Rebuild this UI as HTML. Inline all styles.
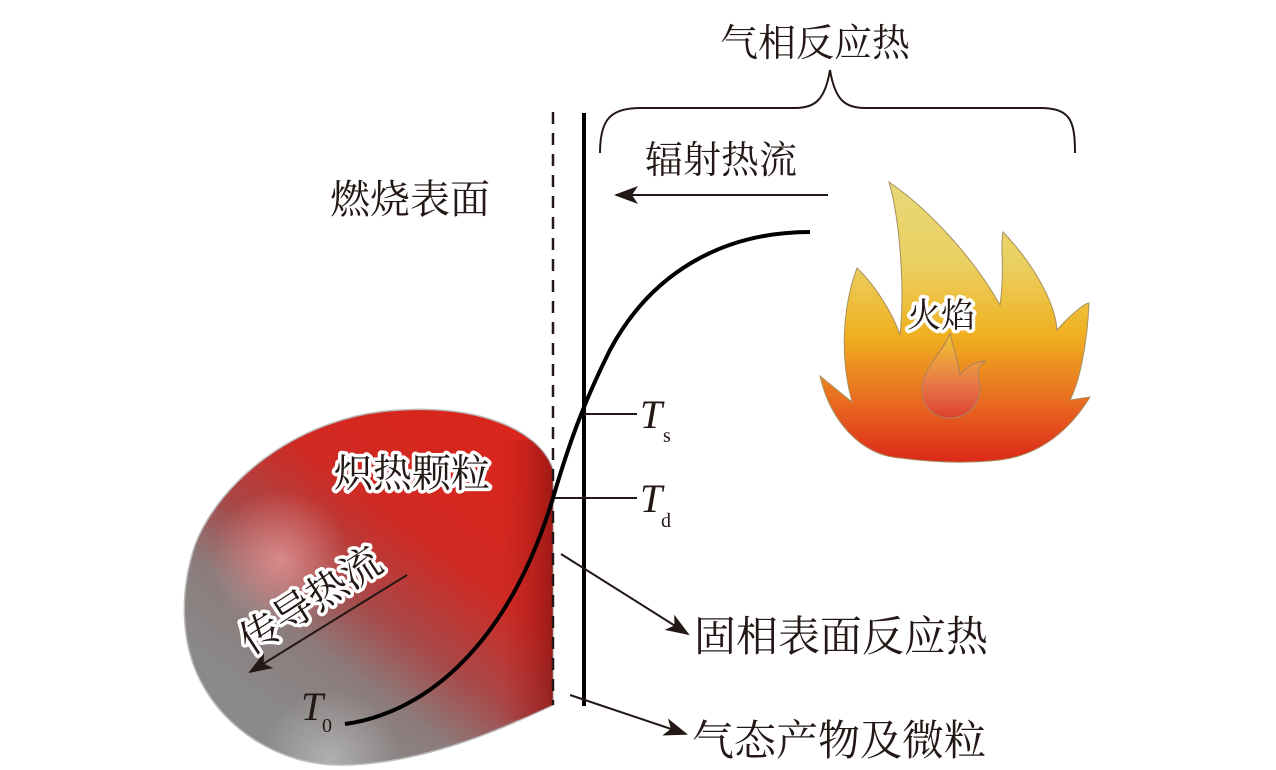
<!DOCTYPE html>
<html><head><meta charset="utf-8"><style>
html,body{margin:0;padding:0;background:#fff;}
svg{display:block;}
.t{font-family:"Liberation Serif","Noto Serif CJK SC",serif;fill:#231815;}
.w{paint-order:stroke;stroke:#fff;stroke-width:7px;stroke-linejoin:round;}
</style></head><body>
<svg width="1276" height="770" viewBox="0 0 1276 770" xmlns="http://www.w3.org/2000/svg">
<defs>
<clipPath id="pc"><path d="M553 470 C540 430 480 405 400 410 C300 415 220 480 195 545 C180 590 180 640 200 680 C225 730 280 765 340 765 C430 765 520 720 553 705 Z"/></clipPath>
<linearGradient id="pg" x1="470" y1="450" x2="270" y2="720" gradientUnits="userSpaceOnUse">
<stop offset="0" stop-color="#d8261c"/>
<stop offset="0.3" stop-color="#cf2a24"/>
<stop offset="0.55" stop-color="#a84848"/>
<stop offset="0.75" stop-color="#8c7c7c"/>
<stop offset="1" stop-color="#8a8a8a"/>
</linearGradient>
<radialGradient id="hl" cx="280" cy="560" r="70" gradientUnits="userSpaceOnUse">
<stop offset="0" stop-color="#f0a0a0" stop-opacity="0.7"/>
<stop offset="1" stop-color="#f0a0a0" stop-opacity="0"/>
</radialGradient>
<radialGradient id="bh" cx="330" cy="760" r="70" gradientUnits="userSpaceOnUse">
<stop offset="0" stop-color="#c8c8c8" stop-opacity="0.6"/>
<stop offset="1" stop-color="#c8c8c8" stop-opacity="0"/>
</radialGradient>
<linearGradient id="rg" x1="0" y1="0" x2="1" y2="0">
<stop offset="0" stop-color="#b01c1c" stop-opacity="0"/>
<stop offset="1" stop-color="#7a1010" stop-opacity="0.6"/>
</linearGradient>
<linearGradient id="fg" x1="0" y1="182" x2="0" y2="460" gradientUnits="userSpaceOnUse">
<stop offset="0" stop-color="#e8d878"/>
<stop offset="0.3" stop-color="#ead060"/>
<stop offset="0.55" stop-color="#f0b020"/>
<stop offset="0.8" stop-color="#e86820"/>
<stop offset="1" stop-color="#dc2a1a"/>
</linearGradient>
<linearGradient id="ig" x1="0" y1="333" x2="0" y2="418" gradientUnits="userSpaceOnUse">
<stop offset="0" stop-color="#f0c830"/>
<stop offset="0.6" stop-color="#e87848"/>
<stop offset="1" stop-color="#dc4030"/>
</linearGradient>
<marker id="ah2" markerWidth="24" markerHeight="18" refX="22" refY="9" orient="auto" markerUnits="userSpaceOnUse" viewBox="0 0 24 18">
<path d="M0,0 L24,9 L0,18 L6,9 Z" fill="#231815"/>
</marker>
</defs>

<!-- particle -->
<path d="M553 470 C540 430 480 405 400 410 C300 415 220 480 195 545 C180 590 180 640 200 680 C225 730 280 765 340 765 C430 765 520 720 553 705 Z" fill="url(#pg)" stroke="#bbb" stroke-width="1.5"/>
<g clip-path="url(#pc)">
<rect x="180" y="400" width="380" height="370" fill="url(#hl)"/>
<rect x="180" y="400" width="380" height="370" fill="url(#bh)"/>
<rect x="500" y="440" width="53" height="280" fill="url(#rg)"/>
</g>

<!-- flame -->
<path d="M900 458 C860 455 830 420 820 376 L852 402 C838 350 845 300 857 268 C880 290 895 320 900 335 C905 290 900 220 889 182 C930 210 975 260 1000 305 C1005 270 1000 245 1003 232 C1030 260 1055 300 1057 330 C1070 315 1085 303 1089 303 C1087 350 1078 385 1070 400 L1090 397 C1070 430 1040 455 1000 460 C965 464 930 462 900 458 Z" fill="url(#fg)" stroke="#a89060" stroke-width="1"/>
<path d="M950 333 C945 350 920 370 922 392 C924 410 935 418 950 418 C970 418 982 400 980 385 C978 375 975 370 985 361 C970 362 962 372 960 375 C958 358 952 345 950 333 Z" fill="url(#ig)" stroke="#b08060" stroke-width="1"/>

<!-- lines -->
<line x1="553" y1="112" x2="553" y2="705" stroke="#231815" stroke-width="2.5" stroke-dasharray="12,9"/>
<line x1="584" y1="113" x2="584" y2="706" stroke="#000" stroke-width="4"/>
<line x1="584" y1="414" x2="637" y2="414" stroke="#231815" stroke-width="2"/>
<line x1="555" y1="498" x2="637" y2="498" stroke="#231815" stroke-width="2"/>
<path d="M345 724 C430 712 510 640 553 498 C570 440 585 400 610 350 C650 275 720 232 810 232" fill="none" stroke="#000" stroke-width="4"/>

<!-- brace -->
<path d="M600 153 C600 120 610 108 640 108 L795 108 C815 108 825 100 830 70 C835 100 845 108 865 108 L1040 108 C1070 108 1075 120 1075 153" fill="none" stroke="#231815" stroke-width="2"/>

<!-- arrows -->
<line x1="828" y1="195" x2="616" y2="195" stroke="#231815" stroke-width="2" marker-end="url(#ah2)"/>
<line x1="561" y1="554" x2="688" y2="634" stroke="#231815" stroke-width="2" marker-end="url(#ah2)"/>
<line x1="570" y1="695" x2="686" y2="734" stroke="#231815" stroke-width="2" marker-end="url(#ah2)"/>
<line x1="407" y1="575" x2="250" y2="672" stroke="#231815" stroke-width="2" marker-end="url(#ah2)"/>

<!-- text -->
<text class="t" x="720" y="56" font-size="38">气相反应热</text>
<text class="t" x="645" y="173" font-size="38">辐射热流</text>
<text class="t" x="330" y="213" font-size="40">燃烧表面</text>
<text class="t" x="694" y="651" font-size="42">固相表面反应热</text>
<text class="t" x="692" y="755" font-size="42">气态产物及微粒</text>
<text class="t w" x="334" y="487" font-size="39">炽热颗粒</text>
<text class="t w" x="907" y="327" font-size="34">火焰</text>
<text class="t w" x="0" y="0" font-size="40" transform="translate(318,612) rotate(-33)" text-anchor="middle">传导热流</text>
<text class="t" x="640" y="428" font-size="40" font-style="italic">T</text>
<text class="t" x="663" y="442" font-size="20">s</text>
<text class="t" x="640" y="512" font-size="40" font-style="italic">T</text>
<text class="t" x="661" y="527" font-size="20">d</text>
<text class="t" x="301" y="720" font-size="40" font-style="italic">T</text>
<text class="t" x="322" y="732" font-size="20">0</text>
</svg>
</body></html>
